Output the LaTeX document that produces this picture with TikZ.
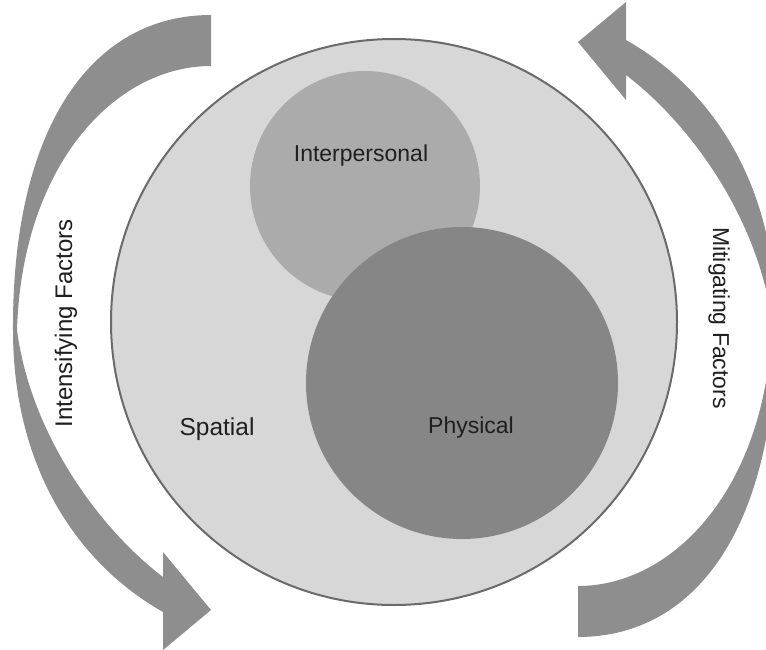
\documentclass[tikz,border=0pt]{standalone}
\usepackage{fontspec}
\setmainfont{Liberation Sans}

\definecolor{arrowgray}{HTML}{8E8E8E}
\definecolor{spatialgray}{HTML}{D7D7D7}
\definecolor{rimgray}{HTML}{6A6A6A}
\definecolor{interpgray}{HTML}{ABABAB}
\definecolor{physgray}{HTML}{868686}
\definecolor{textgray}{HTML}{1F1F1F}

\tikzset{
  blob/.style={circle, inner sep=0pt, outer sep=0pt},
  lbl/.style={inner sep=0pt, text=textgray, font=\fontsize{23}{27}\selectfont}
}

\begin{document}
\begin{tikzpicture}[x=1pt,y=-1pt]
\useasboundingbox (0,0) rectangle (766,650);

% bent arrow on the left, tail at the top, head at the bottom
\fill[arrowgray] (211,15) .. controls (90,15) and (12,130) .. (13,330)
  .. controls (13,465) and (75,562) .. (163,612)
  -- (163,650) -- (211,610) -- (163,552) -- (163,577)
  .. controls (95,525) and (30,430) .. (17,330)
  .. controls (22,165) and (115,66) .. (211,66) -- cycle;

% the same arrow turned round on the right
\fill[arrowgray, rotate around={180:(394.5,326)}] (211,15) .. controls (90,15) and (12,130) .. (13,330)
  .. controls (13,465) and (75,562) .. (163,612)
  -- (163,650) -- (211,610) -- (163,552) -- (163,577)
  .. controls (95,525) and (30,430) .. (17,330)
  .. controls (22,165) and (115,66) .. (211,66) -- cycle;

% circles
\node[blob, fill=spatialgray, draw=rimgray, line width=2pt, minimum size=566pt] (spatial) at (394,322) {};
\node[blob, fill=interpgray, minimum size=230pt] (interpersonal) at (365,186) {};
\node[blob, fill=physgray, minimum size=312pt] (physical) at (462,383) {};

% labels
\node[lbl, anchor=base] (interplbl) at (361,161) {Interpersonal};
\node[lbl, anchor=base] (physlbl) at (471,433) {Physical};
\node[lbl, anchor=base, font=\fontsize{24.5}{28}\selectfont] (spatlbl) at (217,435.5) {Spatial};
\node[lbl, anchor=base, rotate=90, font=\fontsize{24}{28}\selectfont] (intenslbl) at (72,323.5) {Intensifying Factors};
\node[lbl, anchor=base, rotate=-90] (mitiglbl) at (713,318) {Mitigating Factors};
\end{tikzpicture}
\end{document}
